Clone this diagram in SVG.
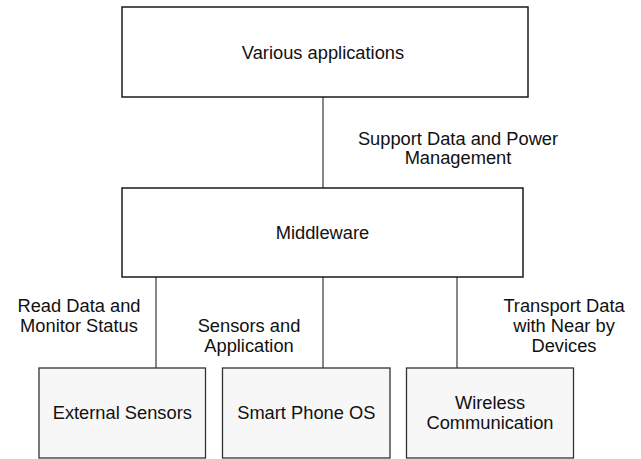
<svg xmlns="http://www.w3.org/2000/svg" width="641" height="459" viewBox="0 0 641 459">
<style>
.box{fill:#ffffff;stroke:#1a1a1a;stroke-width:1.5}
.sub{fill:#f7f7f7;stroke:#333333;stroke-width:1.3}
.conn{stroke:#555555;stroke-width:1.4;fill:none}
text{font-family:"Liberation Sans",Arial,sans-serif;font-size:18.3px;fill:#111111;text-anchor:middle}
</style>
<rect width="641" height="459" fill="#ffffff"/>
<g id="connectors">
<line class="conn" x1="323" y1="97" x2="323" y2="188"/>
<line class="conn" x1="156" y1="277" x2="156" y2="368"/>
<line class="conn" x1="323" y1="277" x2="323" y2="368"/>
<line class="conn" x1="457" y1="277" x2="457" y2="368"/>
</g>
<g id="labels">
<text x="458" y="145">Support Data and Power</text>
<text x="458" y="164">Management</text>
<text x="79" y="312">Read Data and</text>
<text x="79" y="332">Monitor Status</text>
<text x="249" y="332">Sensors and</text>
<text x="249" y="352">Application</text>
<text x="564" y="312">Transport Data</text>
<text x="564" y="332">with Near by</text>
<text x="564" y="352">Devices</text>
</g>
<g id="various-applications">
<rect class="box" x="122" y="7" width="406" height="90"/>
<text x="323" y="59">Various applications</text>
</g>
<g id="middleware">
<rect class="box" x="122" y="188" width="401" height="89"/>
<text x="322.5" y="239">Middleware</text>
</g>
<g id="external-sensors">
<rect class="sub" x="39" y="368" width="166.5" height="90"/>
<text x="122.3" y="419">External Sensors</text>
</g>
<g id="smart-phone-os">
<rect class="sub" x="222.5" y="368" width="167.5" height="90"/>
<text x="306.3" y="419">Smart Phone OS</text>
</g>
<g id="wireless-communication">
<rect class="sub" x="406.5" y="368" width="167" height="90"/>
<text x="490" y="408.5">Wireless</text>
<text x="490" y="428.5">Communication</text>
</g>
</svg>
